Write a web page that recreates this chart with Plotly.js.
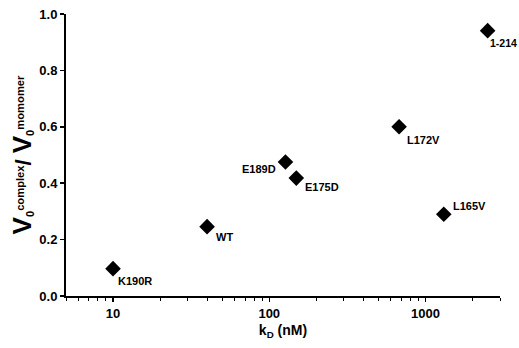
<!DOCTYPE html>
<html>
<head>
<meta charset="utf-8">
<script src="https://cdn.plot.ly/plotly-3.0.1.min.js"></script>
<style>html,body{margin:0;padding:0;background:#fff;}#chart{width:519px;height:348px;}</style>
</head>
<body>
<div id="chart"></div>
<script>
const labels = ["K190R", "WT", "E189D", "E175D", "L172V", "L165V", "1-214"];
const kD = [10, 40, 127, 149, 678, 1310, 2500];
const ratio = [0.097, 0.246, 0.475, 0.418, 0.600, 0.290, 0.941];
// label side relative to its marker: [anchor, xshift, yshift]
const labelSide = [["left", 3, -12], ["left", 7, -10], ["right", -7, -7], ["left", 7, -9], ["left", 6, -13], ["left", 7, 8], ["left", 0, -12]];
const xTicks = [10, 100, 1000];
const yTicks = [0, 0.2, 0.4, 0.6, 0.8, 1.0];

const minorVals = [];
for (let d = 1; d <= 1000; d *= 10) {
  for (let m = 2; m <= 9; m++) {
    const v = m * d;
    if (v >= 5 && v <= 3000) minorVals.push(v);
  }
}

const fam = "Liberation Sans, Arial, sans-serif";

const annotations = labels.map((t, i) => ({
  x: Math.log10(kD[i]), y: ratio[i], xref: "x", yref: "y",
  text: t, showarrow: false,
  xanchor: labelSide[i][0], yanchor: "middle",
  xshift: labelSide[i][1], yshift: labelSide[i][2],
  font: {family: fam, size: i === 6 ? 10.5 : 11, color: "#000", weight: "bold"}
}));

Plotly.newPlot("chart", [{
  type: "scatter",
  mode: "markers",
  x: kD,
  y: ratio,
  marker: {symbol: "diamond", size: 12, color: "#000", line: {width: 0}},
  cliponaxis: false,
  hoverinfo: "none"
}], {
  width: 519, height: 348,
  margin: {l: 66, r: 19, t: 14, b: 52},
  paper_bgcolor: "#fff", plot_bgcolor: "#fff",
  showlegend: false,
  font: {family: fam, color: "#000"},
  annotations: annotations,
  xaxis: {
    type: "log",
    range: [Math.log10(5), Math.log10(3000)],
    tickvals: xTicks,
    ticktext: xTicks.map(String),
    ticks: "outside", ticklen: 4, tickwidth: 1.5, tickcolor: "#000",
    minor: {ticks: "outside", ticklen: 3, tickwidth: 1, tickcolor: "#000", tickvals: minorVals},
    showline: true, linecolor: "#000", linewidth: 2,
    showgrid: false, zeroline: false,
    tickfont: {family: fam, size: 13, color: "#000", weight: "bold"},
    title: {text: "k<sub>D</sub> (nM)", font: {family: fam, size: 14, color: "#000", weight: "bold"}, standoff: 6}
  },
  yaxis: {
    range: [0, 1.0],
    tickvals: yTicks,
    ticktext: yTicks.map(v => v.toFixed(1)),
    ticks: "outside", ticklen: 4, tickwidth: 1.5, tickcolor: "#000",
    showline: true, linecolor: "#000", linewidth: 2,
    showgrid: false, zeroline: false,
    tickfont: {family: fam, size: 13, color: "#000", weight: "bold"},
    title: {text: "<span style='font-size:26px'>V</span><sub>0</sub><sup>complex</sup><span style='font-size:22px'>/ </span><span style='font-size:26px'>V</span><sub>0</sub><sup>momomer</sup>", font: {family: fam, size: 16, color: "#000", weight: "bold"}, standoff: 4}
  }
}, {staticPlot: true, displayModeBar: false});
</script>
</body>
</html>
